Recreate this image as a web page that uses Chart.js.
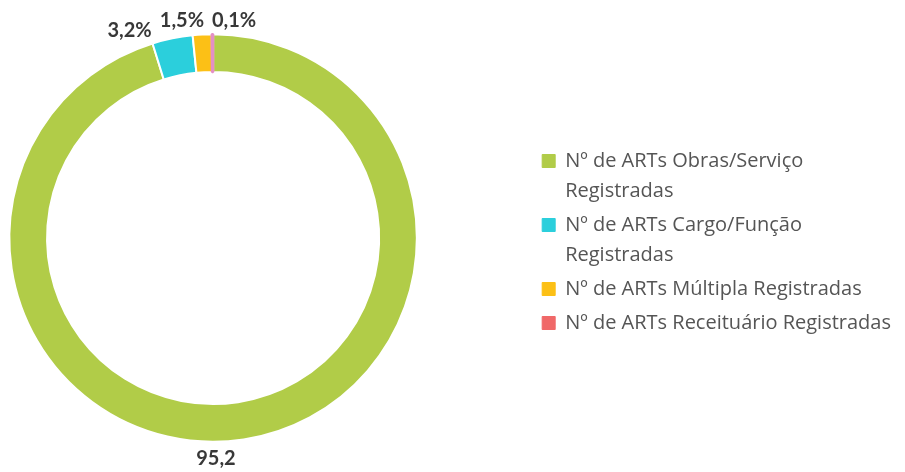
<!DOCTYPE html>
<html>
<head>
<meta charset="utf-8">
<script src="https://cdn.jsdelivr.net/npm/chart.js@4.4.1/dist/chart.umd.min.js"></script>
<style>
  html, body { margin: 0; padding: 0; background: #fff; overflow: hidden; }
  #wrap { width: 1017px; height: 472px; margin-left: -112px; }
</style>
</head>
<body>
<div id="wrap"><canvas id="artsChart"></canvas></div>
<script>
const labels = [
  ["Nº de ARTs Obras/Serviço", "Registradas"],
  ["Nº de ARTs Cargo/Função", "Registradas"],
  ["Nº de ARTs Múltipla Registradas"],
  ["Nº de ARTs Receituário Registradas"]
];
const values = [95.2, 3.2, 1.5, 0.1];
const valueTexts = ["95,2", "3,2%", "1,5%", "0,1%"];

const sliceColors = ["#b1cc48", "#2bcfdc", "#fcc016", "#e48fc6"];
const legendColors = ["#b1cc48", "#2bcfdc", "#fcc016", "#f06868"];

// label placement tweaks (degrees / px beyond outer edge)
const labelTurn = [7.9, -10.4, -5.1, 5.7];
const labelGap = [17, 20, 15.5, 14.5];

const outsideLabels = {
  id: "outsideLabels",
  afterDatasetsDraw(chart){
    const ctx = chart.ctx;
    const meta = chart.getDatasetMeta(0);
    ctx.save();
    ctx.font = "bold 20px Lato, 'Open Sans', sans-serif";
    ctx.fillStyle = "#383838";
    ctx.textAlign = "center";
    ctx.textBaseline = "middle";
    meta.data.forEach((arc, i) => {
      const p = arc.getProps(["x", "y", "startAngle", "endAngle", "outerRadius"], true);
      const a = (p.startAngle + p.endAngle) / 2 + labelTurn[i] * Math.PI / 180;
      const r = p.outerRadius + labelGap[i];
      ctx.fillText(valueTexts[i], p.x + Math.cos(a) * r, p.y + Math.sin(a) * r);
    });
    ctx.restore();
  }
};

new Chart(document.getElementById("artsChart"), {
  type: "doughnut",
  data: {
    labels: labels,
    datasets: [{
      data: values,
      backgroundColor: sliceColors,
      borderColor: ["#fff", "#fff", "#fff", sliceColors[3]],
      borderWidth: [2, 2, 2, 2.5],
      hoverOffset: 0
    }]
  },
  options: {
    responsive: true,
    maintainAspectRatio: false,
    animation: false,
    cutout: "81.5%",
    layout: { padding: { left: 0, right: 4, top: 33, bottom: 29 } },
    plugins: {
      tooltip: { enabled: false },
      legend: {
        position: "right",
        // empty title only pushes the items down a little
        title: { display: true, text: "", font: { size: 12, lineHeight: 1.5 }, padding: 0 },
        labels: {
          boxWidth: 13,
          boxHeight: 13,
          padding: 4,
          color: "#555",
          font: { family: "'Open Sans', sans-serif", size: 20, lineHeight: 1.5 },
          generateLabels(chart){
            return chart.data.labels.map((t, i) => ({
              text: t,
              fillStyle: legendColors[i],
              strokeStyle: legendColors[i],
              lineWidth: 1,
              fontColor: "#555",
              hidden: false,
              index: i
            }));
          }
        }
      }
    }
  },
  plugins: [outsideLabels]
});
</script>
</body>
</html>
